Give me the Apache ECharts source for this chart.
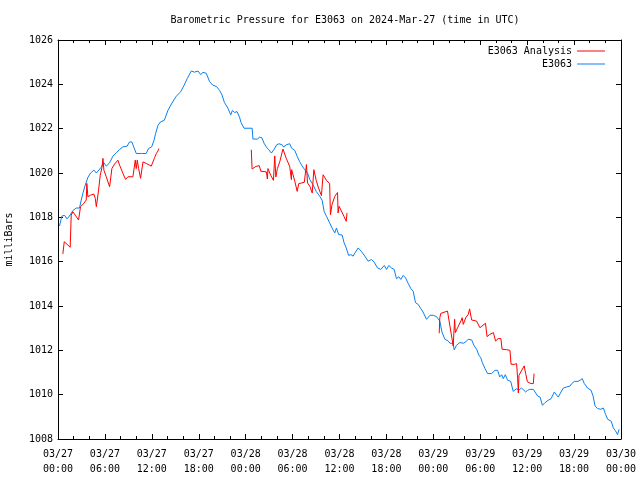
<!DOCTYPE html>
<html>
<head>
<meta charset="utf-8">
<script src="https://cdn.jsdelivr.net/npm/echarts@6/dist/echarts.min.js"></script>
<style>html,body{margin:0;padding:0;background:#fff;}#c{width:640px;height:480px;}</style>
</head>
<body>
<div id="c"></div>
<script>
// hours since 03/27 00:00 UTC
var xTickLabels = ['03/27\n00:00','03/27\n06:00','03/27\n12:00','03/27\n18:00','03/28\n00:00','03/28\n06:00','03/28\n12:00','03/28\n18:00','03/29\n00:00','03/29\n06:00','03/29\n12:00','03/29\n18:00','03/30\n00:00'];

var stationHours = [0.19,0.50,0.85,1.15,1.46,1.90,2.33,2.75,2.97,3.18,3.48,3.82,4.17,4.59,4.90,5.10,5.50,5.87,6.17,6.60,7.02,7.45,7.87,8.31,8.84,9.15,9.45,9.71,10.01,10.66,11.27,11.57,11.98,12.28,12.48,12.79,13.09,13.60,14.06,14.58,15.11,15.68,16.13,16.53,17.04,17.44,17.91,18.25,18.54,18.96,19.39,19.77,20.27,20.68,20.98,21.28,21.74,22.09,22.30,22.60,22.90,23.21,23.41,23.79,24.83,24.93,25.50,25.80,26.09,26.34,26.65,26.95,27.29,27.66,27.96,28.26,28.67,28.87,29.18,29.63,29.88,30.28,30.59,30.89,31.20,31.55,31.91,32.21,32.61,33.02,33.47,33.78,34.03,34.33,34.74,35.14,35.40,35.61,35.90,36.34,36.56,36.86,37.17,37.44,37.74,38.04,38.38,38.78,39.24,39.66,40.09,40.43,40.86,41.28,41.72,42.02,42.31,42.63,42.99,43.29,43.59,43.84,44.15,44.45,44.78,45.13,45.42,45.72,46.07,46.40,46.68,47.13,47.56,47.99,48.40,48.83,49.10,49.48,49.91,50.12,50.52,50.67,50.96,51.40,51.83,52.14,52.46,52.90,53.23,53.53,53.83,54.06,54.26,54.60,54.94,55.45,55.88,56.22,56.49,56.74,56.94,57.20,57.50,57.90,58.21,58.65,58.92,59.28,59.50,59.81,60.07,60.33,60.79,61.00,61.34,61.65,61.95,62.28,62.66,63.06,63.22,63.47,63.67,63.97,64.33,64.63,65.06,65.49,65.69,66.04,66.50,66.76,67.05,67.31,67.72,68.16,68.43,68.68,69.03,69.44,69.74,70.04,70.30,70.75,71.02,71.26,71.56,71.76];
var stationPress = [1017.61,1018.06,1018.09,1017.93,1018.06,1018.30,1018.42,1018.42,1018.78,1019.08,1019.45,1019.80,1020.00,1020.13,1020.00,1020.00,1020.25,1020.46,1020.31,1020.46,1020.76,1020.91,1021.06,1021.18,1021.21,1021.40,1021.40,1021.15,1020.88,1020.88,1020.88,1021.10,1021.18,1021.48,1021.78,1022.15,1022.30,1022.38,1022.83,1023.16,1023.46,1023.66,1023.96,1024.26,1024.60,1024.55,1024.60,1024.44,1024.54,1024.50,1024.12,1023.97,1023.90,1023.72,1023.52,1023.18,1022.92,1022.62,1022.82,1022.73,1022.77,1022.52,1022.28,1022.02,1022.02,1021.53,1021.53,1021.62,1021.58,1021.35,1021.17,1021.05,1020.90,1021.08,1021.27,1021.32,1021.27,1021.17,1021.27,1021.32,1021.12,1021.02,1020.75,1020.52,1020.33,1020.15,1020.00,1019.70,1019.47,1019.17,1018.95,1018.77,1018.27,1018.05,1017.75,1017.45,1017.30,1017.52,1017.22,1017.20,1016.88,1016.62,1016.28,1016.32,1016.25,1016.43,1016.62,1016.47,1016.25,1016.02,1016.10,1015.98,1015.72,1015.65,1015.83,1015.65,1015.83,1015.72,1015.65,1015.23,1015.32,1015.20,1015.38,1015.27,1015.02,1014.78,1014.67,1014.15,1014.07,1013.88,1013.73,1013.40,1013.58,1013.58,1013.52,1013.32,1012.83,1012.50,1012.42,1012.32,1012.32,1012.02,1012.23,1012.35,1012.32,1012.38,1012.50,1012.47,1012.20,1012.05,1011.78,1011.67,1011.45,1011.18,1010.95,1010.95,1011.10,1011.10,1010.80,1010.90,1010.72,1010.90,1010.65,1010.60,1010.15,1010.27,1010.20,1010.30,1010.39,1010.12,1010.20,1010.24,1010.24,1010.12,1009.94,1009.89,1009.52,1009.64,1009.74,1009.82,1009.76,1010.12,1010.20,1009.89,1010.12,1010.30,1010.35,1010.39,1010.50,1010.60,1010.60,1010.65,1010.72,1010.50,1010.30,1010.20,1009.94,1009.49,1009.37,1009.34,1009.40,1009.10,1008.89,1008.80,1008.50,1008.39,1008.20,1008.44];

var analysisHours1 = [0.62,0.80,1.56,1.69,1.90,2.20,2.63,2.75,2.88,3.31,3.61,3.69,3.82,4.17,4.59,4.77,4.90,5.02,5.19,5.40,5.62,5.75,5.87,6.17,6.60,6.73,6.89,7.23,7.66,7.87,8.31,8.64,8.94,9.58,9.71,9.88,10.01,10.14,10.31,10.56,10.73,10.87,11.29,11.93,12.36,12.58,12.79,12.91];
var analysisPress1 = [1016.35,1016.90,1016.65,1018.10,1018.25,1018.10,1017.88,1017.85,1018.48,1018.63,1018.78,1019.53,1018.93,1019.00,1019.05,1018.85,1018.48,1018.78,1019.23,1019.90,1020.25,1020.66,1020.13,1019.83,1019.38,1019.35,1020.20,1020.40,1020.58,1020.36,1019.98,1019.71,1019.83,1019.83,1019.83,1020.58,1020.20,1020.58,1020.20,1019.76,1019.83,1020.50,1020.43,1020.31,1020.70,1020.88,1021.00,1021.10];
var analysisHours2 = [24.72,24.82,25.33,25.74,25.94,26.65,26.78,26.85,27.20,27.55,27.72,27.86,28.06,28.37,28.77,29.18,29.63,29.85,29.88,30.29,30.59,30.79,30.99,31.50,31.77,31.91,32.21,32.51,32.72,33.02,33.32,33.69,33.90,34.33,34.74,34.84,35.04,35.40,35.75,35.82,35.95,36.56,36.66,36.86,36.96];
var analysisPress2 = [1021.05,1020.18,1020.30,1020.33,1020.08,1020.05,1019.73,1020.20,1019.90,1019.67,1020.77,1019.82,1020.20,1020.52,1021.08,1020.67,1020.30,1019.70,1020.15,1019.62,1019.17,1019.52,1019.43,1019.58,1020.38,1019.55,1019.40,1019.10,1020.15,1019.67,1019.32,1018.98,1019.92,1019.67,1019.52,1018.12,1018.57,1018.95,1019.12,1018.20,1018.50,1018.05,1017.97,1017.82,1018.20];
var analysisHours3 = [48.75,48.83,48.96,49.81,50.12,50.33,50.54,50.72,50.82,51.10,51.52,51.69,51.83,52.14,52.46,52.64,52.90,53.53,53.96,54.16,54.67,54.87,55.23,55.68,55.96,56.29,56.64,56.79,57.35,57.80,57.94,58.36,58.65,58.78,58.87,58.95,59.62,59.81,60.03,60.48,60.79,60.88];
var analysisPress3 = [1012.77,1013.47,1013.67,1013.77,1013.10,1012.65,1012.20,1013.40,1012.80,1013.02,1013.32,1013.47,1013.17,1013.47,1013.62,1013.87,1013.37,1013.32,1013.02,1013.10,1013.22,1012.62,1012.72,1012.80,1012.42,1012.53,1012.53,1012.05,1012.03,1012.00,1011.37,1011.37,1011.40,1010.72,1010.08,1010.87,1011.30,1010.95,1010.58,1010.50,1010.50,1010.95];

function pairs(h, p) { return h.map(function (v, i) { return [v, p[i]]; }); }
var stationData = pairs(stationHours, stationPress);
var analysisData = pairs(analysisHours1, analysisPress1)
  .concat([[18, null]])
  .concat(pairs(analysisHours2, analysisPress2))
  .concat([[42, null]])
  .concat(pairs(analysisHours3, analysisPress3));

var FONT = 'DejaVu Sans Mono';
var axisLineStyle = { color: '#000', width: 1 };

function xAxisDef(pos, labels) {
  return {
    type: 'value', position: pos, min: 0, max: 72, interval: 6,
    axisLine: { show: true, onZero: false, lineStyle: axisLineStyle },
    axisTick: { show: true, inside: true, length: 5, lineStyle: axisLineStyle },
    minorTick: { show: true, splitNumber: 3, length: 3, lineStyle: axisLineStyle },
    splitLine: { show: false },
    axisLabel: {
      show: labels, color: '#000', fontFamily: FONT, fontSize: 10, lineHeight: 15, margin: 8,
      formatter: function (v) { return xTickLabels[Math.round(v / 6)]; }
    }
  };
}
function yAxisDef(pos, labels) {
  var a = {
    type: 'value', position: pos, min: 1008, max: 1026, interval: 2,
    axisLine: { show: true, onZero: false, lineStyle: axisLineStyle },
    axisTick: { show: true, inside: true, length: 5, lineStyle: axisLineStyle },
    splitLine: { show: false },
    axisLabel: { show: labels, color: '#000', fontFamily: FONT, fontSize: 10, margin: 5,
      formatter: function (v) { return String(v); } }
  };
  if (labels) {
    a.name = 'milliBars';
    a.nameLocation = 'middle';
    a.nameRotate = 90;
    a.nameGap = 44;
    a.nameTextStyle = { color: '#000', fontFamily: FONT, fontSize: 10 };
  }
  return a;
}

var chart = echarts.init(document.getElementById('c'), null, { renderer: 'canvas' });
chart.setOption({
  backgroundColor: '#fff',
  animation: false,
  title: {
    text: 'Barometric Pressure for E3063 on 2024-Mar-27 (time in UTC)',
    left: 340, top: 10, textAlign: 'center',
    textStyle: { color: '#000', fontFamily: FONT, fontSize: 10, fontWeight: 'normal' }
  },
  legend: {
    orient: 'vertical', right: 30, top: 41, align: 'right', itemGap: 3,
    itemWidth: 28, itemHeight: 1, icon: 'rect',
    textStyle: { color: '#000', fontFamily: FONT, fontSize: 10 },
    data: ['E3063 Analysis', 'E3063']
  },
  grid: { left: 58, right: 19, top: 40, bottom: 41, containLabel: false, outerBoundsMode: 'none' },
  xAxis: [xAxisDef('bottom', true), xAxisDef('top', false)],
  yAxis: [yAxisDef('left', true), yAxisDef('right', false)],
  series: [
    {
      name: 'E3063', type: 'line', xAxisIndex: 0, yAxisIndex: 0,
      data: stationData, showSymbol: false, symbol: 'none',
      lineStyle: { color: '#0a80f0', width: 1 }, itemStyle: { color: '#0a80f0' }
    },
    {
      name: 'E3063 Analysis', type: 'line', xAxisIndex: 0, yAxisIndex: 0,
      data: analysisData, showSymbol: false, symbol: 'none', connectNulls: false,
      lineStyle: { color: '#ff0000', width: 1 }, itemStyle: { color: '#ff0000' }
    }
  ]
});
</script>
</body>
</html>
